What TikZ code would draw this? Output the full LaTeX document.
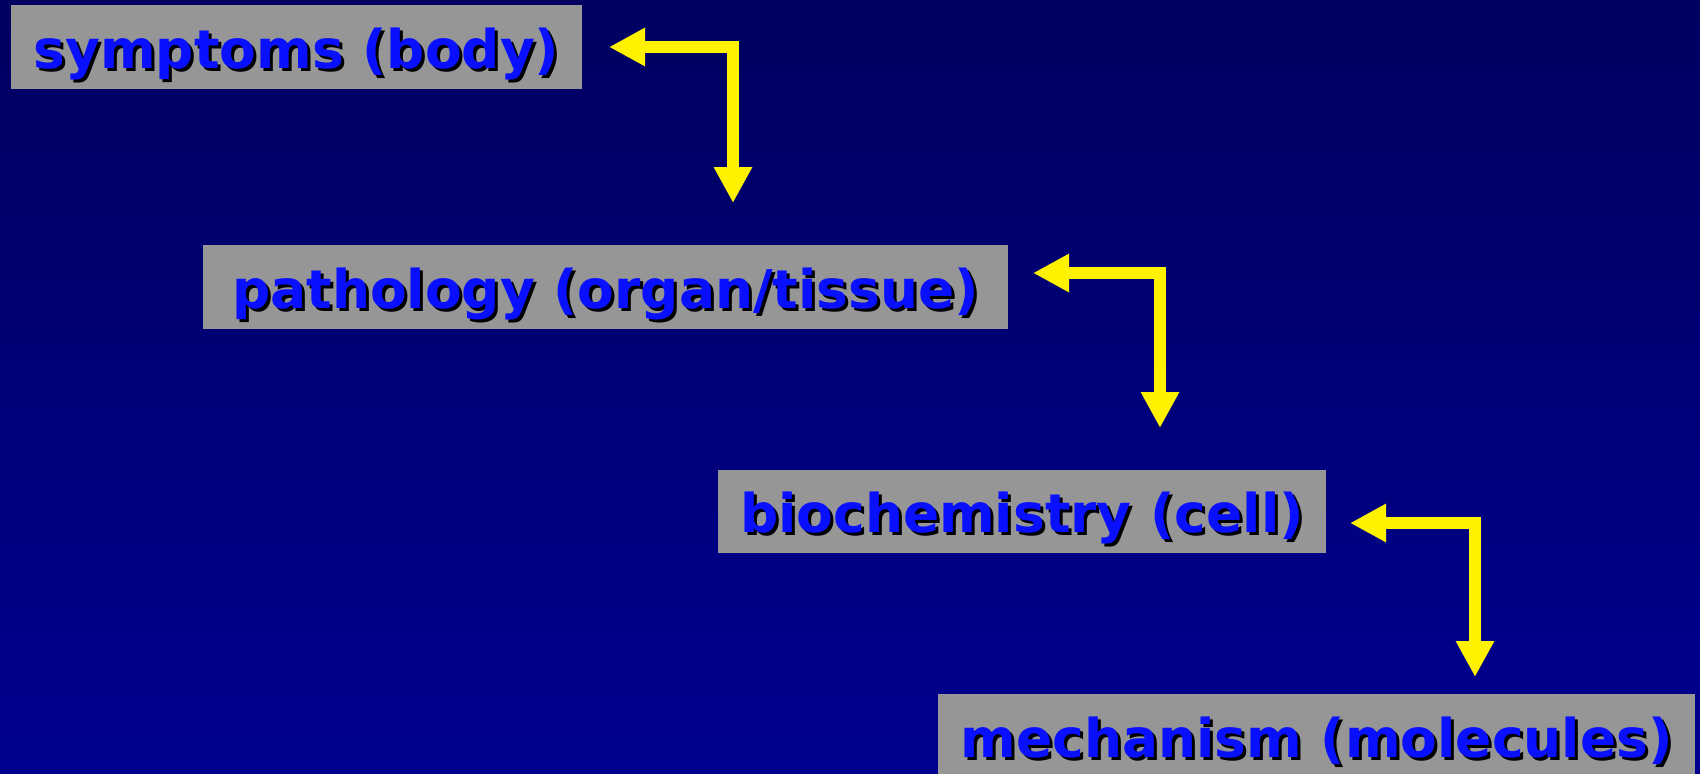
\documentclass[tikz,border=0pt]{standalone}
\usepackage{fontspec}
\usetikzlibrary{arrows.meta}
\newfontfamily\lab{DejaVu Sans}
\definecolor{bgtop}{RGB}{0,0,96}
\definecolor{bgbot}{RGB}{0,0,144}
\definecolor{boxgray}{RGB}{150,150,150}
\definecolor{txtblue}{RGB}{8,16,255}
\newcommand\shadowed[1]{\rlap{\kern0.3mm\raisebox{-0.3mm}{\color{black}#1}}#1}
\tikzset{
  stagebox/.style={fill=boxgray, draw=none, minimum height=8.35mm, inner sep=0pt,
    text height=4.3mm, text depth=0mm,
    text=txtblue, font=\lab\bfseries\fontsize{15.2pt}{18pt}\selectfont},
  yarrow/.style={draw=yellow, line width=1.2mm, line join=miter,
    {Triangle[length=3.6mm,width=3.6mm]}-{Triangle[length=3.6mm,width=3.6mm]}}
}
\begin{document}
\begin{tikzpicture}[x=0.1mm,y=-0.1mm]
\useasboundingbox (0,0) rectangle (1700,773);
\shade[top color=bgtop, bottom color=bgbot] (0,0) rectangle (1700,773);

\node[stagebox, minimum width=57.14mm] (b1) at (296.5,46.8) {\shadowed{symptoms (body)}};
\node[stagebox, minimum width=80.56mm] (b2) at (605.5,286.8) {\shadowed{pathology (organ/tissue)}};
\node[stagebox, minimum width=60.83mm] (b3) at (1021.9,511.3) {\shadowed{biochemistry (cell)}};
\node[stagebox, minimum width=75.75mm] (b4) at (1316.7,735.8) {\shadowed{mechanism (molecules)}};

\coordinate (a1s) at (609,47);
\coordinate (a1e) at (733,203);
\coordinate (a2s) at (1033,273);
\coordinate (a2e) at (1160,428);
\coordinate (a3s) at (1350,523);
\coordinate (a3e) at (1475,677);

\draw[yarrow] (a1s) -| (a1e);
\draw[yarrow] (a2s) -| (a2e);
\draw[yarrow] (a3s) -| (a3e);
\end{tikzpicture}
\end{document}
